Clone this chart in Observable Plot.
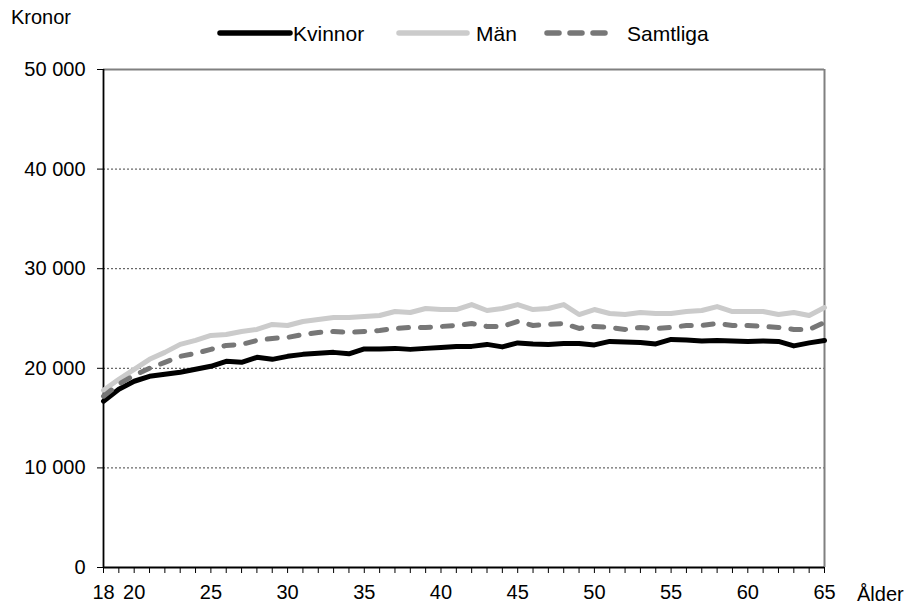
<!DOCTYPE html>
<html><head><meta charset="utf-8">
<script src="https://cdn.jsdelivr.net/npm/d3@7"></script>
<script src="https://cdn.jsdelivr.net/npm/@observablehq/plot@0.6"></script>
<style>
body{margin:0;background:#fff;font-family:"Liberation Sans",Arial,sans-serif;}
#wrap{position:relative;width:911px;height:607px;}
.lbl{position:absolute;color:#000;white-space:nowrap;line-height:normal;}
</style></head>
<body><div id="wrap"></div>
<script>
const ages = d3.range(18, 66);
const kvinnor = [16700,17900,18700,19200,19400,19600,19900,20200,20700,20600,21100,20900,21200,21400,21500,21600,21450,21950,21950,22000,21900,22000,22100,22200,22200,22400,22150,22550,22450,22400,22500,22500,22350,22700,22650,22600,22450,22900,22850,22750,22800,22750,22700,22750,22700,22250,22550,22800];
const man = [17800,18900,19900,20900,21600,22400,22800,23300,23400,23700,23900,24400,24300,24700,24900,25100,25100,25200,25300,25700,25600,26000,25900,25900,26400,25800,26000,26400,25900,26000,26400,25400,25900,25500,25400,25600,25500,25500,25700,25800,26200,25700,25700,25700,25400,25600,25300,26100];
const samtliga = [17200,18400,19300,20000,20600,21200,21500,21900,22300,22400,22800,23000,23100,23400,23600,23700,23600,23700,23800,24000,24100,24100,24200,24300,24500,24200,24200,24700,24300,24400,24500,24000,24200,24100,23900,24100,24000,24100,24300,24300,24500,24300,24300,24200,24100,23900,23900,24600];
const yTicks = [0,10000,20000,30000,40000,50000];
const gridTicks = [10000,20000,30000,40000];
const xLabels = [18,20,25,30,35,40,45,50,55,60,65];
const seriesNames = ["Kvinnor","Män","Samtliga"];
const colors = ["#000000","#cbcbcb","#777777"];

const rows = (vals, s) => ages.map((a,i)=>({age:a, value:vals[i], s}));
const fmt = d => d === 0 ? "0" : (d/1000) + " 000";

const plot = Plot.plot({
  width: 911, height: 607,
  marginTop: 69, marginBottom: 40, marginLeft: 103, marginRight: 87,
  style: {fontFamily: '"Liberation Sans", Arial, sans-serif', fontSize: "20px", color: "#000", background: "#fff"},
  x: {domain: [18, 65], axis: null},
  y: {domain: [0, 50000], axis: null},
  marks: [
    Plot.ruleY(gridTicks, {stroke: "#444", strokeWidth: 1, strokeDasharray: "2,2"}),
    Plot.ruleY([50000], {stroke: "#808080", strokeWidth: 2}),
    Plot.ruleX([65], {stroke: "#808080", strokeWidth: 2}),
    Plot.axisY(yTicks, {tickFormat: fmt, tickSize: 6, tickPadding: 12, fontSize: 20, stroke: "#000", label: null}),
    Plot.axisX(ages, {tickFormat: () => "", tickSize: 6, stroke: "#000", label: null}),
    Plot.axisX(xLabels, {tickSize: 0, tickPadding: 17, fontSize: 20, label: null}),
    Plot.ruleX([18], {stroke: "#000", strokeWidth: 1.8}),
    Plot.ruleY([0], {stroke: "#000", strokeWidth: 1.8}),
    Plot.line(rows(kvinnor, seriesNames[0]), {x: "age", y: "value", stroke: colors[0], strokeWidth: 5}),
    Plot.line(rows(man, seriesNames[1]), {x: "age", y: "value", stroke: colors[1], strokeWidth: 5}),
    Plot.line(rows(samtliga, seriesNames[2]), {x: "age", y: "value", stroke: colors[2], strokeWidth: 5, strokeDasharray: "10,12", strokeLinecap: "round"}),
  ]
});
const wrap = document.getElementById("wrap");
wrap.appendChild(plot);

function addText(t, x, y, size){ const d=document.createElement("div"); d.className="lbl"; d.textContent=t; d.style.left=x+"px"; d.style.top=y+"px"; d.style.fontSize=size+"px"; wrap.appendChild(d); }
function addSwatch(x, w, color, dash){
  const s = document.createElementNS("http://www.w3.org/2000/svg","svg");
  s.setAttribute("width", w+8); s.setAttribute("height", 12);
  s.style.position="absolute"; s.style.left=(x-4)+"px"; s.style.top="27px";
  const l = document.createElementNS("http://www.w3.org/2000/svg","line");
  l.setAttribute("x1",4); l.setAttribute("x2",w+4); l.setAttribute("y1",6); l.setAttribute("y2",6);
  l.setAttribute("stroke",color); l.setAttribute("stroke-width",5.5); l.setAttribute("stroke-linecap","round");
  if(dash) l.setAttribute("stroke-dasharray",dash);
  s.appendChild(l); wrap.appendChild(s);
}
addText("Kronor", 11, 6, 20);
addSwatch(220, 70, colors[0]);
addText(seriesNames[0], 293, 22, 21);
addSwatch(399, 68, colors[1]);
addText(seriesNames[1], 476, 22, 21);
addSwatch(547, 58, colors[2], "12,11");
addText(seriesNames[2], 627, 22, 21);
addText("Ålder", 857, 583, 20);
</script></body></html>
